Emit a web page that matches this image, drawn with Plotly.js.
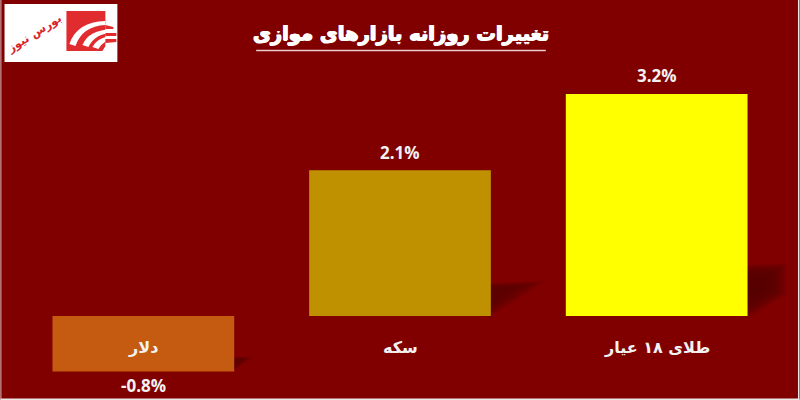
<!DOCTYPE html>
<html><head><meta charset="utf-8">
<script src="https://cdn.plot.ly/plotly-3.0.1.min.js"></script>
<style>html,body{margin:0;padding:0;background:#800000}</style></head>
<body><div id="chart" style="width:800px;height:400px"></div>
<script>
const categories = ['طلای ۱۸ عیار', 'سکه', 'دلار'];
const values = [3.2, 2.1, -0.8];
const barColors = ['#FFFF00', '#BF9000', '#C55A11'];
const chartTitle = 'تغییرات روزانه بازارهای موازی';
const logoText = 'بورس نیوز';
const order = [2, 1, 0];
const xCats = order.map(i => categories[i]);
const yVals = order.map(i => values[i]);
const cols = order.map(i => barColors[i]);

const W = 800, H = 400, L = 14.5, R = 14.5, T = 60, B = 4;
const fx = x => (x - L) / (W - L - R);
const fy = y => 1 - (y - T) / (H - T - B);
const poly = pts => 'M' + pts.map(p => fx(p[0]) + ',' + fy(p[1])).join('L') + 'Z';
const pathShape = (d, color, op, layer) => ({type:'path', xref:'paper', yref:'paper', path:d, fillcolor:color, opacity:op===undefined?1:op, line:{width:0}, layer:layer||'above'});
const rect = (x0,y0,x1,y1,color,layer) => ({type:'rect', xref:'paper', yref:'paper', x0:fx(x0), x1:fx(x1), y0:fy(y0), y1:fy(y1), fillcolor:color, line:{width:0}, layer:layer||'above'});
const curve = (pts) => {
  const p = (a) => fx(a[0]) + ',' + fy(a[1]);
  return 'M' + p(pts[0]) + 'Q' + p(pts[1]) + ' ' + p(pts[2]) + 'L' + p(pts[3]) + 'Q' + p(pts[4]) + ' ' + p(pts[5]) + 'Z';
};

// soft shadow: stacked polygons shrinking toward a focus point
const shadow = (pts, focus, op) => [1, 0.92, 0.84, 0.74, 0.62, 0.48].map(k =>
  pathShape(poly(pts.map(p => [focus[0] + (p[0]-focus[0])*k, focus[1] + (p[1]-focus[1])*k])), '#4a0000', op, 'below'));

const shapes = [
  ...shadow([[746,265],[787,264],[787,294],[750,317],[746,317]], [748,285], 0.2),
  ...shadow([[489,283],[546,281],[489,318]], [489,292], 0.14),
  ...shadow([[232,357],[252,357],[232,372]], [234,361], 0.14),
  rect(4,4,117,62,'#FFFFFF'),
  rect(66,11,105,51,'#E02B2F'),
  pathShape(curve([[69,44],[76,22],[105,21],[105,25],[82,26],[75,46]]),'#FFFFFF'),
  pathShape(curve([[82,45],[88,30],[112,29],[112,33],[95,33],[88,47]]),'#FFFFFF'),
  pathShape(curve([[92,47],[98,36],[115,36],[115,39],[104,39],[98,49]]),'#FFFFFF'),
  pathShape(curve([[102,51],[105,43],[116,42],[116,44],[110,45],[106,51]]),'#FFFFFF'),
  pathShape(poly([[105,25],[113,27],[113,29],[105,29]]),'#E02B2F'),
  pathShape(poly([[105,33],[116,33],[116,36],[105,36]]),'#E02B2F'),
  pathShape(poly([[105,39],[116,39],[116,42],[105,43]]),'#E02B2F'),
  {type:'line', xref:'paper', yref:'paper', x0:fx(256), x1:fx(546), y0:fy(50.5), y1:fy(50.5), line:{color:'#E6CCCC', width:1.5}},
  rect(798.5,0,800,400,'#E8E8E8'),
  rect(0,398.5,800,400,'#E8E8E8'),
  rect(0,0,0.8,400,'#E8E8E8')
];

const annotations = [
  {xref:'paper', yref:'paper', x:fx(401), y:fy(33), xanchor:'center', yanchor:'middle', text:'<b>'+chartTitle+'</b>', showarrow:false,
   font:{family:'DejaVu Sans', size:19.5, color:'#FFFFFF', shadow:'0.7px 0 0 #fff, -0.7px 0 0 #fff, 0 0.6px 0 #fff'}},
  {xref:'paper', yref:'paper', x:fx(34), y:fy(33), xanchor:'center', yanchor:'middle', text:'<b>'+logoText+'</b>', showarrow:false, textangle:-32,
   font:{family:'DejaVu Sans', size:11.5, color:'#D8232A'}}
].concat(xCats.map(c => ({
  x:c, y:-0.46, xref:'x', yref:'y', xanchor:'center', yanchor:'middle', text:'<b>'+c+'</b>', showarrow:false,
  font:{family:'DejaVu Sans', size:16, color:'#F2F2F2'}
}))).concat(xCats.map((c,i) => ({
  x:c, y:yVals[i], xref:'x', yref:'y', xanchor:'center', yanchor:'middle', yshift: yVals[i] >= 0 ? 18 : -14,
  text:'<b>'+yVals[i].toFixed(1)+'%</b>', showarrow:false,
  font:{family:'Open Sans, Liberation Sans', size:17, color:'#F2F2F2'}
})));

Plotly.newPlot('chart', [{
  type:'bar', x:xCats, y:yVals, marker:{color:cols, line:{width:0}}, cliponaxis:false, hoverinfo:'skip'
}], {
  width:W, height:H, margin:{l:L, r:R, t:T, b:B, pad:0},
  paper_bgcolor:'#800000', plot_bgcolor:'#800000', showlegend:false, bargap:0.292,
  xaxis:{type:'category', categoryorder:'array', categoryarray:xCats, showticklabels:false, showgrid:false, zeroline:false, showline:false, ticks:''},
  yaxis:{range:[-1.153,3.689], showticklabels:false, showgrid:false, zeroline:false, showline:false, ticks:''},
  shapes, annotations
}, {displayModeBar:false, staticPlot:true});
</script></body></html>
